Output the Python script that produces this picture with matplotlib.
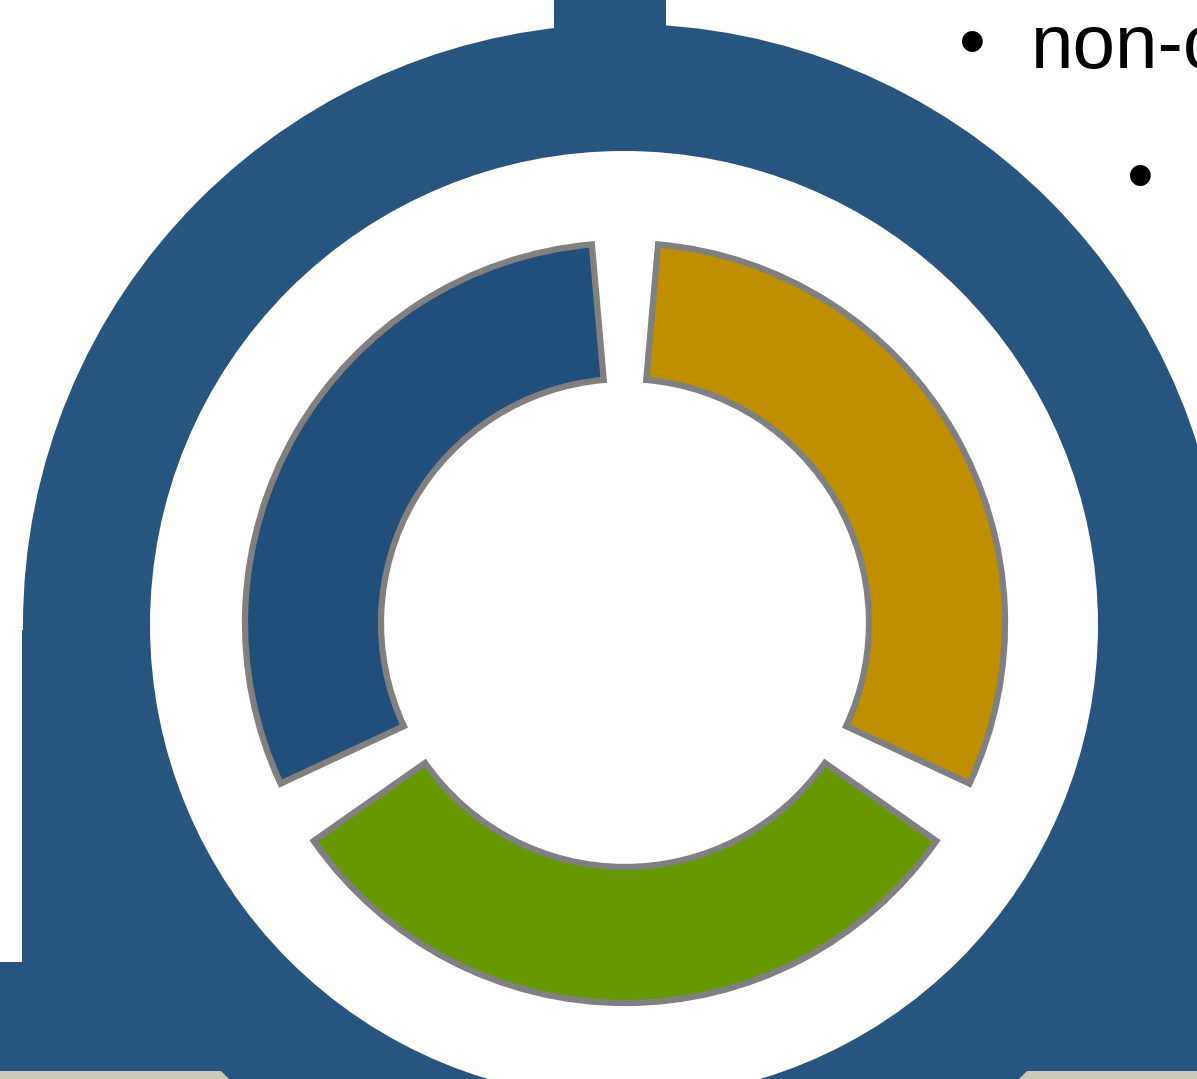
import matplotlib
matplotlib.use("Agg")
import matplotlib.pyplot as plt
from matplotlib.patches import Circle, Rectangle, Polygon

# ---- data ----
categories = ["Gold", "Green", "Blue"]
values = [1, 1, 1]
seg_colors = ["#bf8f00", "#669900", "#214f79"]
bullet_texts = ["non-conformance"]

W, H = 1197, 1079
fig = plt.figure(figsize=(W / 100, H / 100), dpi=100)
ax = fig.add_axes([0, 0, 1, 1])
ax.set_xlim(0, W)
ax.set_ylim(0, H)
ax.set_aspect("equal")
ax.axis("off")

def Y(py):
    return H - py

ring_blue = "#28557d"
cx, cy = 624, Y(625)

# base shapes
ax.add_patch(Rectangle((22, Y(962)), 1300, 962 - 630, color=ring_blue, zorder=1, lw=0))
ax.add_patch(Rectangle((0, Y(1079)), 1300, 1079 - 962, color=ring_blue, zorder=1, lw=0))
ax.add_patch(Rectangle((554, Y(40)), 112, 60, color=ring_blue, zorder=1, lw=0))
ax.add_patch(Circle((cx, cy), 601, color=ring_blue, zorder=1, lw=0))
ax.add_patch(Circle((cx, cy), 474, color="white", zorder=2, lw=0))
# beige strips at the bottom
beige = "#cdc8bc"
ax.add_patch(Polygon([(0, Y(1071)), (221, Y(1071)), (229, Y(1079)), (0, Y(1079))],
                     closed=True, color=beige, zorder=3, lw=0))
ax.add_patch(Polygon([(1027, Y(1071)), (1300, Y(1071)), (1300, Y(1079)), (1019, Y(1079))],
                     closed=True, color=beige, zorder=3, lw=0))

# donut
wedges, _ = ax.pie(values, colors=seg_colors, startangle=90, counterclock=False,
                   center=(625, Y(623)), radius=380, frame=False,
                   wedgeprops=dict(width=136, edgecolor="#808080", linewidth=4.5))
gap = 5
for w in wedges:
    w.set_theta1(w.theta1 + gap)
    w.set_theta2(w.theta2 - gap)
    w.set_zorder(4)

ax.set_xlim(0, W)
ax.set_ylim(0, H)
ax.axis("off")

# text
ax.text(972, Y(48), "\u2022", fontsize=55, family="Liberation Sans",
        ha="center", va="center", zorder=5)
ax.text(1031, Y(68), bullet_texts[0], fontsize=55, family="Liberation Sans",
        ha="left", va="baseline", zorder=5, clip_on=False)
ax.text(1140, Y(181), "\u2022", fontsize=55, family="Liberation Sans",
        ha="center", va="center", zorder=5)

fig.savefig("out.png", dpi=100)
